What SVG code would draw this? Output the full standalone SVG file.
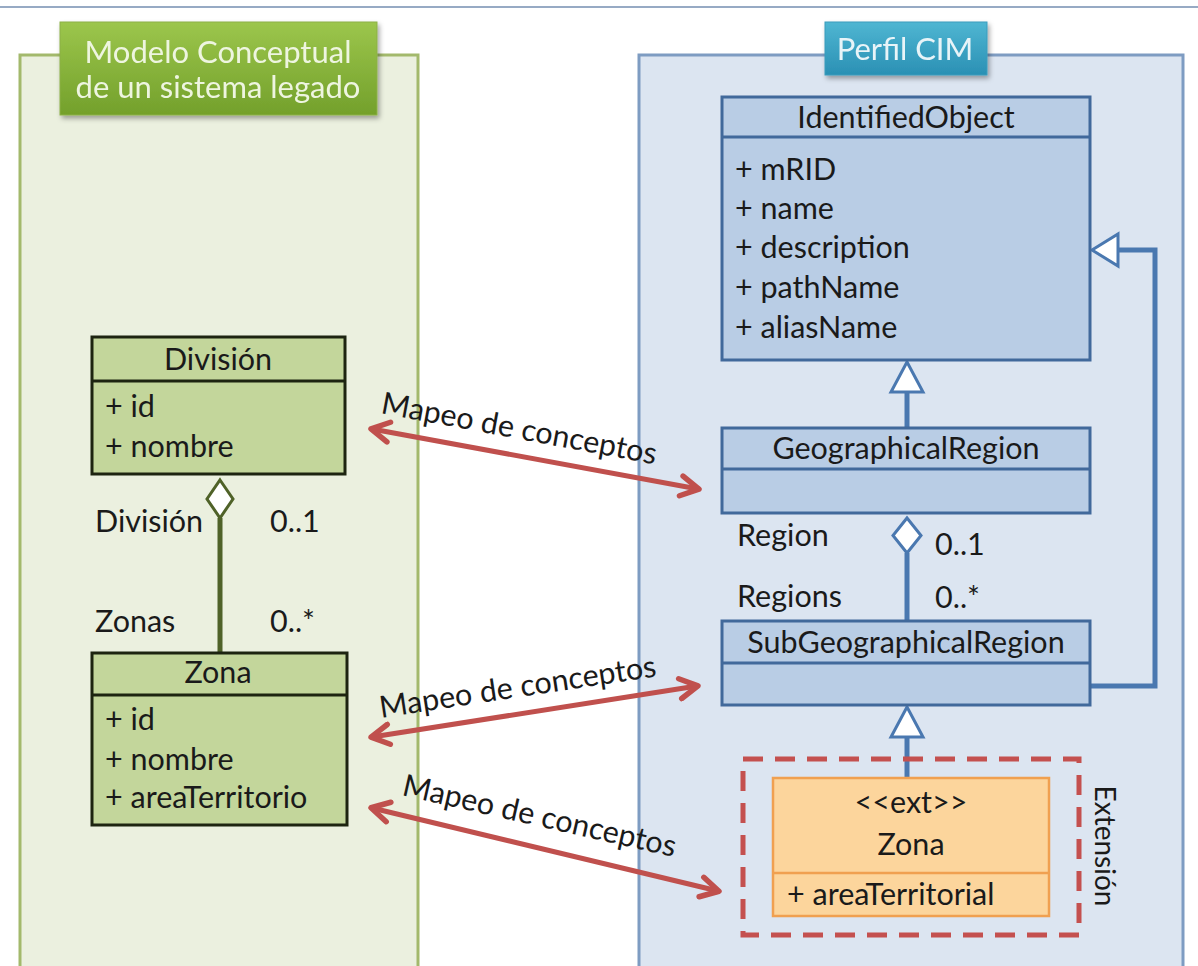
<svg xmlns="http://www.w3.org/2000/svg" width="1198" height="966" viewBox="0 0 1198 966">
<defs>
<linearGradient id="gGreen" x1="0" y1="0" x2="0" y2="1"><stop offset="0" stop-color="#9cc64c"/><stop offset="1" stop-color="#73a02b"/></linearGradient>
<linearGradient id="gTeal" x1="0" y1="0" x2="0" y2="1"><stop offset="0" stop-color="#4fb6d2"/><stop offset="1" stop-color="#2a90b4"/></linearGradient>
<filter id="sh" x="-10%" y="-10%" width="125%" height="135%"><feDropShadow dx="2" dy="3" stdDeviation="2.5" flood-color="#000" flood-opacity="0.35"/></filter>
<marker id="ar" viewBox="0 0 26 26" refX="21" refY="13" markerWidth="26" markerHeight="26" markerUnits="userSpaceOnUse" orient="auto-start-reverse">
<path d="M4,3 L22,13 L4,23" fill="none" stroke="#c0504d" stroke-width="5.5" stroke-linecap="round" stroke-linejoin="round"/>
</marker>
<style>
text{font-family:Lato,"Open Sans","Liberation Sans",sans-serif;fill:#1a1a1a;}
.t{font-size:30.5px;}
.c{text-anchor:middle;}
.title{font-size:31px;fill:#eef5e0;}
.bbox{fill:#b9cde5;stroke:#41699b;stroke-width:3;}
.gbox{fill:#c3d69b;stroke:#1d2410;stroke-width:3;}
.obox{fill:#fcd59c;stroke:#f0a050;stroke-width:2.5;}
.bl{stroke:#4a78b0;stroke-width:5;fill:none;}
.gl{stroke:#4f6228;stroke-width:5;fill:none;}
.tri{fill:#fff;stroke:#4a78b0;stroke-width:3;}
.red{stroke:#c0504d;stroke-width:5;fill:none;}
</style>
</defs>
<rect width="1198" height="966" fill="#fff"/>
<line x1="0" y1="7" x2="1198" y2="7" stroke="#97aac4" stroke-width="2"/>

<g id="panel-left">
<rect x="20" y="55" width="398" height="930" fill="#ebf0df" stroke="#a3b96c" stroke-width="3"/>
</g>
<g id="panel-right">
<rect x="639" y="55" width="544" height="930" fill="#dce5f1" stroke="#7e9cc2" stroke-width="3"/>
</g>

<g id="title-left" filter="url(#sh)">
<rect x="60" y="22" width="317" height="93" fill="url(#gGreen)" stroke="#8cb046" stroke-width="1"/>
<text class="title c" x="218" y="63">Modelo Conceptual</text>
<text class="title c" x="218" y="98">de un sistema legado</text>
</g>
<g id="title-right" filter="url(#sh)">
<rect x="825" y="22" width="162" height="53" fill="url(#gTeal)" stroke="#3a9cbc" stroke-width="1"/>
<text class="title c" x="905" y="60" style="fill:#e8f4f8">Perfil CIM</text>
</g>

<g id="connectors">
<polyline class="gl" points="220,518 220,653"/>
<polyline class="bl" points="907,392 907,428"/>
<polyline class="bl" points="907,553 907,621"/>
<polyline class="bl" points="907,737 907,778"/>
<polyline class="bl" points="1090,686 1155,686 1155,250 1118,250"/>
<line class="red" x1="372" y1="429" x2="698" y2="489" marker-start="url(#ar)" marker-end="url(#ar)"/>
<line class="red" x1="372" y1="737" x2="697" y2="686" marker-start="url(#ar)" marker-end="url(#ar)"/>
<line class="red" x1="372" y1="808" x2="718" y2="891" marker-start="url(#ar)" marker-end="url(#ar)"/>
<polygon class="tri" points="907,362 891,392 923,392"/>
<polygon class="tri" points="907,707 891,737 923,737"/>
<polygon class="tri" points="1092,250 1118,234 1118,266"/>
<polygon points="220,480 233,499 220,518 207,499" fill="#fff" stroke="#4f6228" stroke-width="3"/>
<polygon points="907,518 921,535.5 907,553 893,535.5" fill="#fff" stroke="#4a78b0" stroke-width="3"/>
</g>

<g id="labels-mapping">
<text class="t" transform="translate(380,413) rotate(10.6)">Mapeo de conceptos</text>
<text class="t" transform="translate(381,718) rotate(-8.6)">Mapeo de conceptos</text>
<text class="t" transform="translate(401,795) rotate(12.8)">Mapeo de conceptos</text>
</g>

<g id="node-identifiedobject">
<rect class="bbox" x="722" y="97" width="368" height="263"/>
<line x1="722" y1="137" x2="1090" y2="137" stroke="#41699b" stroke-width="3"/>
<text class="t c" x="906" y="128">IdentifiedObject</text>
<text class="t" x="735" y="180">+ mRID</text>
<text class="t" x="735" y="219">+ name</text>
<text class="t" x="735" y="258">+ description</text>
<text class="t" x="735" y="298">+ pathName</text>
<text class="t" x="735" y="338">+ aliasName</text>
</g>

<g id="node-geographicalregion">
<rect class="bbox" x="722" y="428" width="368" height="85"/>
<line x1="722" y1="469" x2="1090" y2="469" stroke="#41699b" stroke-width="3"/>
<text class="t c" x="906" y="459">GeographicalRegion</text>
</g>

<g id="labels-region">
<text class="t" x="737" y="546">Region</text>
<text class="t" x="935" y="555">0..1</text>
<text class="t" x="737" y="607">Regions</text>
<text class="t" x="935" y="608">0..*</text>
</g>

<g id="node-subgeographicalregion">
<rect class="bbox" x="722" y="621" width="368" height="84"/>
<line x1="722" y1="663" x2="1090" y2="663" stroke="#41699b" stroke-width="3"/>
<text class="t c" x="906" y="653">SubGeographicalRegion</text>
</g>

<g id="extension">
<rect x="743" y="759" width="336" height="176" fill="none" stroke="#c4504f" stroke-width="5" stroke-dasharray="20 12"/>
<text class="t c" transform="translate(1095,846) rotate(90)" style="font-size:28px">Extensión</text>
</g>

<g id="node-zona-ext">
<rect class="obox" x="773" y="778" width="276" height="138"/>
<line x1="773" y1="873" x2="1049" y2="873" stroke="#f0a050" stroke-width="2.5"/>
<text class="t c" x="911" y="813">&lt;&lt;ext&gt;&gt;</text>
<text class="t c" x="911" y="855">Zona</text>
<text class="t" x="787" y="905">+ areaTerritorial</text>
</g>

<g id="node-division">
<rect class="gbox" x="92" y="337" width="253" height="137"/>
<line x1="92" y1="381" x2="345" y2="381" stroke="#1d2410" stroke-width="3"/>
<text class="t c" x="218" y="370">División</text>
<text class="t" x="105" y="417">+ id</text>
<text class="t" x="105" y="457">+ nombre</text>
</g>

<g id="labels-division">
<text class="t" x="95" y="532">División</text>
<text class="t" x="270" y="532">0..1</text>
<text class="t" x="95" y="632">Zonas</text>
<text class="t" x="270" y="632">0..*</text>
</g>

<g id="node-zona">
<rect class="gbox" x="92" y="653" width="255" height="172"/>
<line x1="92" y1="695" x2="347" y2="695" stroke="#1d2410" stroke-width="3"/>
<text class="t c" x="218" y="683">Zona</text>
<text class="t" x="105" y="730">+ id</text>
<text class="t" x="105" y="770">+ nombre</text>
<text class="t" x="105" y="808">+ areaTerritorio</text>
</g>
</svg>
